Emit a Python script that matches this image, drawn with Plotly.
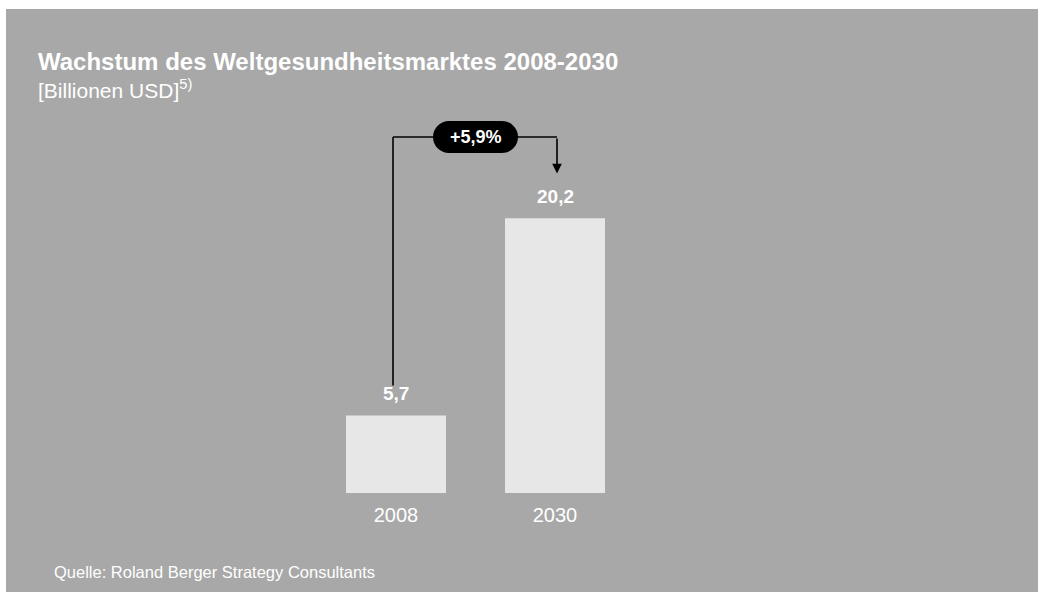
import plotly.graph_objects as go

# Market size, trillion USD
years = ["2008", "2030"]
values = [5.7, 20.2]
growth_label = "+5,9%"

title = "Wachstum des Weltgesundheitsmarktes 2008-2030"
subtitle = "[Billionen USD]<sup>5)</sup>"
source = "Quelle: Roland Berger Strategy Consultants"

W, H = 1038, 592
BG = "#a8a8a8"
BAR = "#e7e7e7"
FONT = "Liberation Sans, Arial, sans-serif"

# plot area spans full width; baseline sits 99 px above the bottom edge
M_B = 99
PLOT_H = H - M_B
PX_PER_CAT = 159
X0_PX = 396
PX_PER_UNIT = 13.6

x_range = [-X0_PX / PX_PER_CAT, (W - X0_PX) / PX_PER_CAT]
y_range = [0, PLOT_H / PX_PER_UNIT]

fig = go.Figure()
fig.add_trace(go.Bar(
    x=[0, 1], y=values, width=100 / PX_PER_CAT,
    marker=dict(color=BAR, line=dict(width=0)),
    hoverinfo="skip",
))


def px_x(p):
    return (p - X0_PX) / PX_PER_CAT


def px_y(p):
    return (PLOT_H - p) / PX_PER_UNIT


def fmt(v):
    return f"{v:.1f}".replace(".", ",")


annotations = []
# value labels above bars
for i, v in enumerate(values):
    annotations.append(dict(
        x=i, y=v, xref="x", yref="y", text=fmt(v), showarrow=False,
        yanchor="bottom", yshift=9,
        font=dict(family=FONT, size=19, color="white", weight="bold"),
    ))

# growth connector
pill_y = px_y(137)
left_x = px_x(393)
right_x = px_x(557)
mid_x = 0.5
line_style = dict(color="black", width=1.6)
shapes = [
    # panel edges (white strips at top and left)
    dict(type="rect", xref="paper", yref="paper", x0=0, x1=1,
         y0=(PLOT_H - 9) / PLOT_H, y1=1.0, fillcolor="white",
         line=dict(width=0), layer="below"),
    dict(type="rect", xref="paper", yref="paper", x0=0, x1=6 / W,
         y0=-M_B / PLOT_H, y1=1.0, fillcolor="white",
         line=dict(width=0), layer="below"),
    dict(type="line", xref="x", yref="y", x0=left_x, x1=left_x,
         y0=values[0] + 2.2, y1=pill_y, line=line_style),
    dict(type="line", xref="x", yref="y", x0=left_x, x1=mid_x,
         y0=pill_y, y1=pill_y, line=line_style),
    dict(type="line", xref="x", yref="y", x0=mid_x, x1=right_x,
         y0=pill_y, y1=pill_y, line=line_style),
]
# pill = rect + two end circles
for sx0, sx1, kind in [(-26.5, 26.5, "rect"), (-42.5, -10.5, "circle"), (10.5, 42.5, "circle")]:
    shapes.append(dict(
        type=kind, xref="x", yref="y", xsizemode="pixel", ysizemode="pixel",
        xanchor=mid_x, yanchor=pill_y, x0=sx0, x1=sx1, y0=-16, y1=16,
        fillcolor="black", line=dict(width=0),
    ))

annotations.append(dict(
    x=mid_x, y=pill_y, xref="x", yref="y", text=growth_label, showarrow=False,
    font=dict(family=FONT, size=18, color="white", weight="bold"),
))
# arrow down towards the 2030 bar
annotations.append(dict(
    x=right_x, y=values[1] + 3.3, ax=right_x, ay=pill_y,
    xref="x", yref="y", axref="x", ayref="y", text="", showarrow=True,
    arrowhead=2, arrowsize=1.2, arrowwidth=1.6, arrowcolor="black",
))

# titles and source
annotations += [
    dict(x=36 / W, y=(PLOT_H - 61) / PLOT_H, xref="paper", yref="paper",
         xanchor="left", yanchor="middle", text=title, showarrow=False,
         font=dict(family=FONT, size=24, color="white", weight="bold")),
    dict(x=36 / W, y=(PLOT_H - 89) / PLOT_H, xref="paper", yref="paper",
         xanchor="left", yanchor="middle", text=subtitle, showarrow=False,
         font=dict(family=FONT, size=21, color="white")),
    dict(x=52 / W, y=(PLOT_H - 572) / PLOT_H, xref="paper", yref="paper",
         xanchor="left", yanchor="middle", text=source, showarrow=False,
         font=dict(family=FONT, size=16.5, color="white")),
]

fig.update_layout(
    width=W, height=H,
    margin=dict(l=0, r=0, t=0, b=M_B, pad=0),
    paper_bgcolor=BG, plot_bgcolor=BG,
    showlegend=False,
    separators=",.",
    xaxis=dict(range=x_range, tickmode="array", tickvals=[0, 1], ticktext=years,
               showgrid=False, zeroline=False, showline=False, ticks="",
               ticklabelstandoff=8,
               tickfont=dict(family=FONT, size=20, color="white"),
               fixedrange=True),
    yaxis=dict(range=y_range, visible=False, fixedrange=True),
    shapes=shapes,
    annotations=annotations,
)

fig.write_html("out.html")
